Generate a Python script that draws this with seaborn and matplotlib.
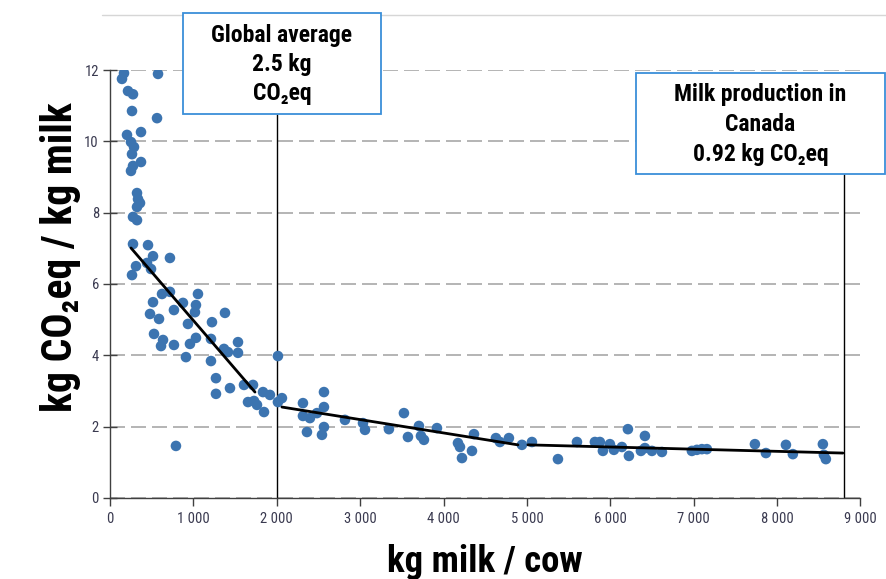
import matplotlib
matplotlib.use("Agg")
import matplotlib.pyplot as plt
import seaborn as sns
import pandas as pd
from matplotlib import font_manager
from matplotlib.patches import Rectangle
from matplotlib.lines import Line2D

# Milk yield per cow (kg/year) and emission intensity (kg CO2eq per kg milk)
milk_per_cow = [
    168, 144, 216, 276, 264, 576, 564, 372, 204, 252, 288, 264, 372, 276, 252,
    324, 336, 360, 324, 276, 324, 276, 456,
    516, 719, 312, 444, 492, 264, 624, 719, 1055, 516, 875, 1031, 1019, 480,
    767, 588, 1223, 1379, 935, 528, 636, 612, 767, 1031, 959, 1211, 1535, 1367,
    1415, 1535, 911, 1211, 1271, 1271, 1439, 1607, 1715, 1655, 1763, 1847, 1835,
    1918, 1727, 791,
    2014, 2014, 2062, 2314, 2314, 2398, 2482, 2566, 2566, 2566, 2542, 2362, 2818,
    3034, 3058, 3345, 3525, 3573, 3705, 3729, 3765, 3921, 4173, 4197, 4221, 4341,
    4365, 4628, 4676, 4784, 4940, 5060,
    5372, 5600, 5815, 5875, 5911, 5995, 6043, 6139, 6211, 6223, 6367, 6415, 6415,
    6499, 6619, 6978, 7038, 7098, 7158, 7734, 7866, 8106, 8189, 8549, 8561, 8585,
]
co2_per_kg = [
    11.91, 11.75, 11.41, 11.32, 10.85, 11.89, 10.65, 10.26, 10.18, 9.98, 9.84,
    9.64, 9.42, 9.31, 9.17, 8.55, 8.38, 8.27, 8.16, 7.88, 7.79, 7.12, 7.09,
    6.78, 6.73, 6.50, 6.59, 6.42, 6.25, 5.72, 5.78, 5.72, 5.49, 5.47, 5.41, 5.21,
    5.16, 5.27, 5.02, 4.93, 5.19, 4.88, 4.60, 4.43, 4.26, 4.29, 4.49, 4.32, 4.46,
    4.37, 4.18, 4.09, 4.07, 3.95, 3.84, 3.36, 2.92, 3.08, 3.17, 3.17, 2.69, 2.61,
    2.41, 2.97, 2.89, 2.72, 1.46,
    3.98, 2.69, 2.80, 2.66, 2.30, 2.24, 2.38, 2.97, 2.55, 1.99, 1.77, 1.85, 2.19,
    2.10, 1.91, 1.93, 2.38, 1.71, 2.02, 1.74, 1.63, 1.96, 1.54, 1.43, 1.12, 1.32,
    1.79, 1.68, 1.57, 1.68, 1.49, 1.57,
    1.09, 1.57, 1.57, 1.57, 1.32, 1.51, 1.35, 1.43, 1.93, 1.18, 1.32, 1.74, 1.40,
    1.32, 1.29, 1.32, 1.35, 1.37, 1.37, 1.51, 1.26, 1.49, 1.23, 1.51, 1.21, 1.09,
]

# Piecewise trend segments (start, end)
trend_x = [[252, 1739], [2062, 4892], [5012, 8789]]
trend_y = [[7.01, 2.97], [2.55, 1.49], [1.49, 1.26]]

# Reference yields marked by the call-out boxes
global_avg_x = 2000
canada_x = 8800

x_ticks = [0, 1000, 2000, 3000, 4000, 5000, 6000, 7000, 8000, 9000]
x_tick_labels = ["0", "1 000", "2 000", "3 000", "4 000", "5 000",
                 "6 000", "7 000", "8 000", "9 000"]
y_ticks = [0, 2, 4, 6, 8, 10, 12]

global_box_text = "Global average\n2.5 kg\nCO\u2082eq"
canada_box_text = "Milk production in\nCanada\n0.92 kg CO\u2082eq"

sns.set_theme(style="white")


def pick_narrow_family():
    """Return (family, stretch, is_narrow) for the narrowest sans available."""
    entries = font_manager.fontManager.ttflist
    named = ["Roboto Condensed", "Noto Sans Condensed", "Open Sans Condensed",
             "Liberation Sans Narrow", "DejaVu Sans Condensed", "Arial Narrow"]
    names = {e.name for e in entries}
    for n in named:
        if n in names:
            return n, "normal", True
    for n in ["DejaVu Sans", "Noto Sans", "Open Sans", "Roboto", "Inter"]:
        for e in entries:
            if e.name == n and "condensed" in str(e.stretch).lower():
                return n, "condensed", True
    for n in ["Lato", "Roboto", "DejaVu Sans"]:
        if n in names:
            return n, "normal", False
    return "DejaVu Sans", "normal", False


narrow_family, narrow_stretch, is_narrow = pick_narrow_family()
families = [narrow_family, "DejaVu Sans"]
plt.rcParams["font.family"] = families
plt.rcParams["font.stretch"] = narrow_stretch
plt.rcParams["text.color"] = "black"

# scale factor so wide fallbacks still fit the same space
fs = 1.0 if is_narrow else 0.82

fig = plt.figure(figsize=(8.87, 5.79), dpi=100)
ax = fig.add_axes([0.124, 0.1399, 0.8461, 0.7392])

df = pd.DataFrame({"milk": milk_per_cow, "co2": co2_per_kg})
sns.scatterplot(data=df, x="milk", y="co2", ax=ax, color="#3c74b0",
                s=58, edgecolor="none", linewidth=0, zorder=3)

for xs, ys in zip(trend_x, trend_y):
    seg = pd.DataFrame({"x": xs, "y": ys})
    sns.lineplot(data=seg, x="x", y="y", ax=ax, color="black", lw=2.0,
                 estimator=None, sort=False, zorder=4)

ax.set_xlim(0, 9000)
ax.set_ylim(0, 12)
ax.set_xticks(x_ticks)
ax.set_xticklabels(x_tick_labels)
ax.set_yticks(y_ticks)

ax.yaxis.grid(True, linestyle=(0, (9, 3.6)), color="#a8a8a8", lw=1.2)
ax.xaxis.grid(False)
ax.set_axisbelow(True)

for side in ["top", "right"]:
    ax.spines[side].set_visible(False)
for side in ["left", "bottom"]:
    ax.spines[side].set_color("#404040")
    ax.spines[side].set_linewidth(1.0)

tick_size = 10.5 * (1 if is_narrow else 0.92)
ax.tick_params(axis="y", direction="inout", length=10, width=1, color="#404040",
               labelsize=tick_size, labelcolor="#3a3a50", pad=3, left=True)
ax.tick_params(axis="x", direction="out", length=6, width=1, color="#404040",
               labelsize=tick_size, labelcolor="#3a3a50", pad=4, bottom=True)

ax.set_xlabel("kg milk / cow", fontsize=26.5 * fs, fontweight="heavy",
              color="black")
ax.set_ylabel("kg CO\u2082eq / kg milk", fontsize=30 * fs, fontweight="heavy",
              color="black")
ax.xaxis.label.set_va("center")
ax.yaxis.label.set_va("center")
ax.xaxis.set_label_coords(0.5, -0.1495)
ax.yaxis.set_label_coords(-0.066, 0.563)

# Call-out boxes (pixel extents) with leader lines down to the x-axis
boxes = [
    (global_box_text, global_avg_x, 183, 13, 381, 114, 1.32),
    (canada_box_text, canada_x, 636, 73, 885, 174, 1.38),
]
W, H = 887.0, 579.0
fig.canvas.draw()
for text, xval, x0, y0, x1, y1, spacing in boxes:
    rect = Rectangle((x0 / W, 1 - y1 / H), (x1 - x0) / W, (y1 - y0) / H,
                     transform=fig.transFigure, facecolor="white",
                     edgecolor="#3a8fd9", lw=1.3, zorder=5)
    fig.patches.append(rect)
    fig.text((x0 + x1) / 2 / W, 1 - (y0 + y1 + 2) / 2 / H, text, ha="center",
             va="center", fontsize=17 * fs, fontweight="heavy",
             linespacing=spacing if is_narrow else spacing + 0.1,
             color="black", zorder=6)
    # data y of the box's lower edge
    top_y = ax.transData.inverted().transform(
        fig.transFigure.transform((0, 1 - y1 / H)))[1]
    ax.vlines(xval, 0, top_y, color="black", lw=1.0, clip_on=False, zorder=2)

# thin rule along the top of the slide
fig.add_artist(Line2D([0.115, 1.0], [1 - 15 / H, 1 - 15 / H],
                      transform=fig.transFigure, color="#d6d6d6", lw=1.0,
                      zorder=0))

fig.savefig("out.png", dpi=100)
